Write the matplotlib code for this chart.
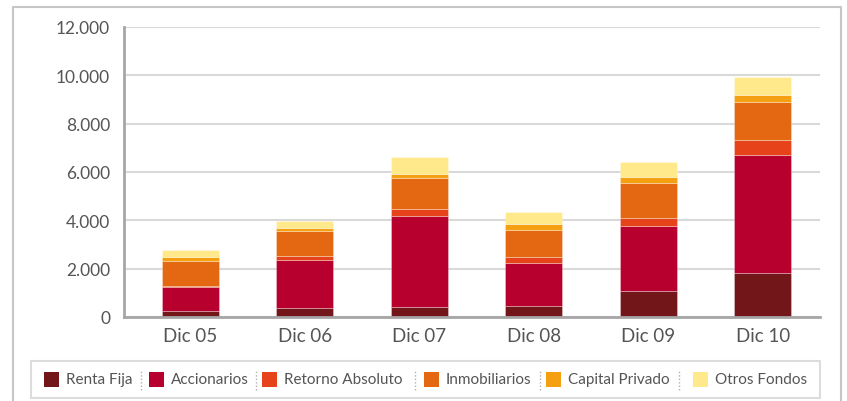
import numpy as np
import matplotlib
matplotlib.use('Agg')
import matplotlib.pyplot as plt
from matplotlib.patches import Rectangle
from matplotlib.lines import Line2D
from matplotlib.ticker import FuncFormatter

plt.rcParams['font.family'] = ['Lato', 'DejaVu Sans']

# data (stacked, bottom to top)
periodos = ['Dic 05', 'Dic 06', 'Dic 07', 'Dic 08', 'Dic 09', 'Dic 10']
renta_fija = [260, 372, 413, 455, 1087, 1818]
accionarios = [992, 1996, 3785, 1760, 2698, 4901]
retorno_absoluto = [41, 153, 277, 264, 331, 595]
inmobiliarios = [1021, 1045, 1294, 1141, 1434, 1595]
capital_privado = [178, 124, 140, 235, 248, 265]
otros_fondos = [260, 302, 715, 484, 607, 768]

series = ['Renta Fija', 'Accionarios', 'Retorno Absoluto', 'Inmobiliarios',
          'Capital Privado', 'Otros Fondos']
valores = [renta_fija, accionarios, retorno_absoluto, inmobiliarios,
           capital_privado, otros_fondos]
colores = ['#721619', '#B8002F', '#E6431A', '#E36811', '#F59F12', '#FFE98A']

W, H = 847, 402
fig = plt.figure(figsize=(W / 100, H / 100), dpi=100)
ax = fig.add_axes([124 / W, (H - 318) / H, (820 - 124) / W, (318 - 28) / H])

x = np.arange(len(periodos))
base = np.zeros(len(periodos))
for nombre, vals, col in zip(series, valores, colores):
    ax.bar(x, vals, width=0.5, bottom=base, color=col, label=nombre,
           edgecolor=(1, 1, 1, 0.35), linewidth=0.6, zorder=3)
    base = base + np.array(vals)

ax.set_xlim(-0.58, 5.5)
ax.set_ylim(0, 12000)
ax.set_yticks(np.arange(0, 12001, 2000))
ax.yaxis.set_major_formatter(FuncFormatter(lambda v, p: f'{int(v):,}'.replace(',', '.')))
ax.set_xticks(x)
ax.set_xticklabels(periodos)
ax.grid(axis='y', color='#d9d9d9', linewidth=1.5, zorder=0)
ax.tick_params(length=0, colors='#555555')
ax.tick_params(axis='y', labelsize=12.5, pad=10)
ax.tick_params(axis='x', labelsize=13.5, pad=7)
for s in ['top', 'right']:
    ax.spines[s].set_visible(False)
for s in ['left', 'bottom']:
    ax.spines[s].set_color('#a6a6a6')
    ax.spines[s].set_linewidth(2)
    ax.spines[s].set_zorder(4)

# outer frame (open at the bottom)
fx = [13 / W, 13 / W, 841 / W, 841 / W]
fy = [0, 1 - 7.5 / H, 1 - 7.5 / H, 0]
fig.add_artist(Line2D(fx, fy, color='#c6c6c6', linewidth=1.5, transform=fig.transFigure))

# legend box with dotted separators
fig.add_artist(Rectangle((31 / W, (H - 399) / H), (820 - 31) / W, 37 / H,
                         transform=fig.transFigure, facecolor='white',
                         edgecolor='#dcdcdc', linewidth=1.5))
sq_x = [44, 149, 262, 424, 546, 693]
sep_x = [141, 256, 415, 540, 679]
ly = H - 380.5
for sx, nombre, col in zip(sq_x, series, colores):
    fig.add_artist(Rectangle((sx / W, (ly - 7) / H), 15 / W, 15 / H,
                             transform=fig.transFigure, facecolor=col, edgecolor='none'))
    fig.text((sx + 22) / W, ly / H, nombre, fontsize=11, color='#555555', va='center')
for sx in sep_x:
    fig.add_artist(Line2D([sx / W, sx / W], [(ly - 10) / H, (ly + 10) / H],
                          color='#b0b0b0', linewidth=1, linestyle=(0, (1, 1.5)),
                          transform=fig.transFigure))

fig.savefig('out.png', dpi=100)
